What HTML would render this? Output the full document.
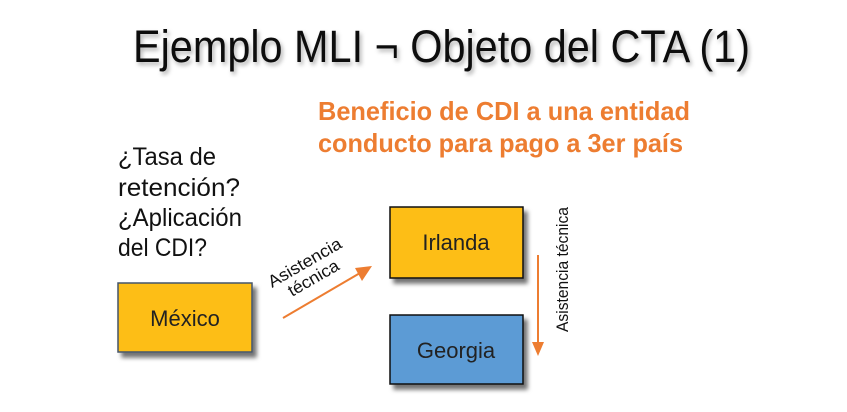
<!DOCTYPE html>
<html><head><meta charset="utf-8"><style>
html,body{margin:0;padding:0;background:#fff;}
svg{display:block}
text{font-family:"Liberation Sans Narrow","Liberation Sans",sans-serif;}
</style></head><body>
<svg width="847" height="412" viewBox="0 0 847 412" xmlns="http://www.w3.org/2000/svg">
<defs>
<filter id="sh" x="-20%" y="-20%" width="150%" height="150%">
<feDropShadow dx="4" dy="5" stdDeviation="2" flood-color="#000" flood-opacity="0.55"/>
</filter>
<filter id="ts"><feDropShadow dx="2" dy="3" stdDeviation="2" flood-color="#000" flood-opacity="0.3"/></filter>
</defs>
<text x="133" y="62" font-size="45" fill="#111" textLength="617" lengthAdjust="spacingAndGlyphs" filter="url(#ts)">Ejemplo MLI ¬ Objeto del CTA (1)</text>
<text x="318" y="120" font-size="26" font-weight="bold" fill="#ED7D31" textLength="372" lengthAdjust="spacingAndGlyphs">Beneficio de CDI a una entidad</text>
<text x="318" y="152" font-size="26" font-weight="bold" fill="#ED7D31" textLength="365" lengthAdjust="spacingAndGlyphs">conducto para pago a 3er país</text>
<g font-size="25" fill="#111">
<text x="118" y="165" textLength="98" lengthAdjust="spacingAndGlyphs">¿Tasa de</text>
<text x="118" y="196" textLength="122" lengthAdjust="spacingAndGlyphs">retención?</text>
<text x="118" y="226" textLength="124" lengthAdjust="spacingAndGlyphs">¿Aplicación</text>
<text x="118" y="256" textLength="89" lengthAdjust="spacingAndGlyphs">del CDI?</text>
</g>
<rect x="118" y="283" width="134" height="69" fill="#FDBE16" stroke="#44546A" stroke-width="1.5" filter="url(#sh)"/>
<text x="185" y="326" font-size="22" fill="#222" text-anchor="middle">México</text>
<rect x="390" y="207" width="133" height="71" fill="#FDBE16" stroke="#111" stroke-width="1.5" filter="url(#sh)"/>
<text x="456" y="250" font-size="22" fill="#222" text-anchor="middle">Irlanda</text>
<rect x="390" y="315" width="133" height="69" fill="#5B9BD5" stroke="#111" stroke-width="1.5" filter="url(#sh)"/>
<text x="456" y="358" font-size="22" fill="#222" text-anchor="middle">Georgia</text>
<line x1="283" y1="318" x2="360" y2="273" stroke="#ED7D31" stroke-width="2"/>
<polygon points="372,266 355,268 362,281" fill="#ED7D31"/>
<line x1="538" y1="255" x2="538" y2="343" stroke="#ED7D31" stroke-width="2"/>
<polygon points="532,342 544,342 538,356" fill="#ED7D31"/>
<g font-size="17" fill="#111">
<text transform="translate(272,288) rotate(-30)" textLength="82" lengthAdjust="spacingAndGlyphs">Asistencia</text>
<text transform="translate(292,297) rotate(-30)" textLength="56" lengthAdjust="spacingAndGlyphs">técnica</text>
<text transform="translate(568,332) rotate(-90)" textLength="125" lengthAdjust="spacingAndGlyphs">Asistencia técnica</text>
</g>
</svg>
</body></html>
